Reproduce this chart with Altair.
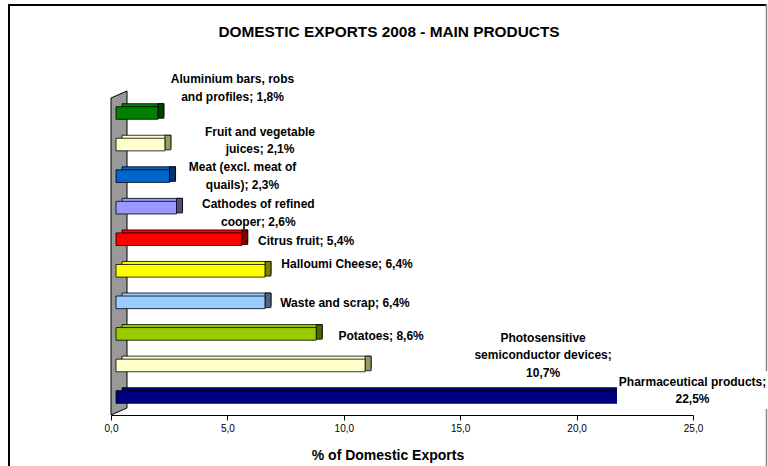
import altair as alt
import pandas as pd

# ---------------- data ----------------
products = [
    "Aluminium bars, robs and profiles",
    "Fruit and vegetable juices",
    "Meat (excl. meat of quails)",
    "Cathodes of refined cooper",
    "Citrus fruit",
    "Halloumi Cheese",
    "Waste and scrap",
    "Potatoes",
    "Photosensitive semiconductor devices",
    "Pharmaceutical products",
]
shares = [1.8, 2.1, 2.3, 2.6, 5.4, 6.4, 6.4, 8.6, 10.7, 22.5]
label_text = [
    "Aluminium bars, robs\nand profiles; 1,8%",
    "Fruit and vegetable\njuices; 2,1%",
    "Meat (excl. meat of\nquails); 2,3%",
    "Cathodes of refined\ncooper; 2,6%",
    "Citrus fruit; 5,4%",
    "Halloumi Cheese; 6,4%",
    "Waste and scrap; 6,4%",
    "Potatoes; 8,6%",
    "Photosensitive\nsemiconductor devices;\n10,7%",
    "Pharmaceutical products;\n22,5%",
]
x_ticks = [0, 5, 10, 15, 20, 25]
chart_title = "DOMESTIC EXPORTS 2008 - MAIN PRODUCTS"
x_title = "% of Domestic Exports"

# ---------------- styles ----------------
front_colors = ["#008000", "#FFFFCC", "#0066CC", "#9999FF", "#FF0000",
                "#FFFF00", "#99CCFF", "#99CC00", "#FFFFCC", "#000080"]
side_colors = ["#004000", "#999966", "#003366", "#4D4D80", "#800000",
               "#808000", "#4D6680", "#4D6600", "#999966", "#000040"]
label_dx = [3.42, 4.30, 3.35, 3.73, 2.98, 3.74, 3.65, 3.00, 7.86, 2.48]
label_dy = [-0.79, -0.13, 0.0, 0.17, 0.07, -0.20, 0.02, 0.08, -0.33, -0.21]
LINE_H = 17.5          # px between label lines
PX_PER_ROW = 31.56     # px per category row

idx = list(range(len(products)))
nlines = [t.count("\n") + 1 for t in label_text]
df = pd.DataFrame({
    "product": products,
    "share": shares,
    "zero": [0.0] * len(products),
    "lo": [i - 0.2 for i in idx],
    "hi": [i + 0.2 for i in idx],
    "front": front_colors,
    "side": side_colors,
    "label": label_text,
    "lx": [s + d for s, d in zip(shares, label_dx)],
    "ly": [i + d - (n - 1) * LINE_H / 2 / PX_PER_ROW
           for i, d, n in zip(idx, label_dy, nlines)],
})

FONT = "Liberation Sans"
xscale = alt.Scale(domain=[0, 25], nice=False, zero=False)
yscale = alt.Scale(domain=[-0.475, 9.57], reverse=True, nice=False, zero=False)

x_axis = alt.Axis(values=x_ticks, title=None, grid=False,
                  labelExpr="replace(format(datum.value, '.1f'), '.', ',')",
                  domainColor="black", tickColor="black", tickSize=5,
                  labelFont=FONT, labelFontSize=10, labelColor="black",
                  labelPadding=3, labelFlush=False)

base = alt.Chart(df)
single = alt.Chart(pd.DataFrame({"k": [0]}))

# frame around the whole picture
frame_left = single.mark_rule(color="black", strokeWidth=2).encode(
    x=alt.value(-102), y=alt.value(-94), y2=alt.value(380))
frame_top = single.mark_rule(color="black", strokeWidth=2).encode(
    x=alt.value(-103), x2=alt.value(656), y=alt.value(-93))
frame_right = single.mark_rule(color="#888888", strokeWidth=1.5).encode(
    x=alt.value(655.5), y=alt.value(-94), y2=alt.value(380))

# grey side wall (parallelogram)
wall = single.mark_point(
    shape="M-0.0494,-0.9568L0.0494,-1L0.0494,0.9568L-0.0494,1Z",
    filled=True, fill="#999999", stroke="black", strokeWidth=1,
    opacity=1, size=104976,
).encode(x=alt.value(8), y=alt.value(155))

back = base.mark_rect(xOffset=11, x2Offset=11, yOffset=-3, y2Offset=-3,
                      stroke="black", strokeWidth=0.8).encode(
    x=alt.X("zero:Q", scale=xscale, axis=x_axis),
    x2="share:Q",
    y=alt.Y("lo:Q", scale=yscale, axis=None),
    y2="hi:Q",
    fill=alt.Fill("front:N", scale=None),
)

side = base.mark_rect(xOffset=5, x2Offset=11, yOffset=-3, y2Offset=-1,
                      stroke="black", strokeWidth=0.8).encode(
    x=alt.X("share:Q", scale=xscale),
    x2="share:Q",
    y=alt.Y("lo:Q", scale=yscale, axis=None),
    y2="hi:Q",
    fill=alt.Fill("side:N", scale=None),
)

front = base.mark_rect(xOffset=5, x2Offset=5, stroke="black", strokeWidth=0.8).encode(
    x=alt.X("zero:Q", scale=xscale),
    x2="share:Q",
    y=alt.Y("lo:Q", scale=yscale, axis=None),
    y2="hi:Q",
    fill=alt.Fill("front:N", scale=None),
)

# white background of the last data label (covers bar end, as in the original)
label_bg = single.mark_rect(fill="white").encode(
    x=alt.value(506), x2=alt.value(660), y=alt.value(273), y2=alt.value(311))

labels = base.mark_text(font=FONT, fontSize=12, fontWeight="bold", lineBreak="\n",
                        lineHeight=LINE_H, align="center", baseline="middle",
                        color="black").encode(
    x=alt.X("lx:Q", scale=xscale),
    y=alt.Y("ly:Q", scale=yscale, axis=None),
    text="label:N",
)

title = single.mark_text(text=chart_title, font=FONT, fontSize=15.4, fontWeight="bold",
                         align="center", baseline="alphabetic", color="black").encode(
    x=alt.value(278), y=alt.value(-61))

xtitle = single.mark_text(text=x_title, font=FONT, fontSize=14, fontWeight="bold",
                          align="center", baseline="alphabetic", color="black").encode(
    x=alt.value(277), y=alt.value(362))

chart = alt.layer(frame_left, frame_top, frame_right, wall, back, side, front,
                  label_bg, labels, title, xtitle).properties(
    width=582, height=317,
    autosize=alt.AutoSizeParams(type="none"),
    padding={"left": 111, "top": 98, "right": 75, "bottom": 51},
    background="white",
).configure_view(stroke=None)

chart.save("out.html", embed_options={"renderer": "svg", "actions": False})
